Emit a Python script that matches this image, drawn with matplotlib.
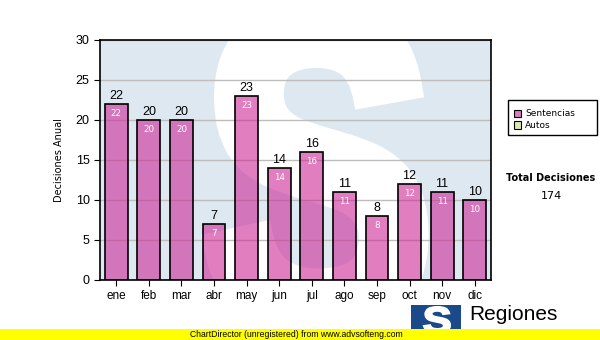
import matplotlib.pyplot as plt
import matplotlib.patches as mpatches
from matplotlib.textpath import TextPath
from matplotlib.font_manager import FontProperties
from matplotlib.transforms import Affine2D

meses = ["ene", "feb", "mar", "abr", "may", "jun", "jul", "ago", "sep", "oct", "nov", "dic"]
sentencias = [22, 20, 20, 7, 23, 14, 16, 11, 8, 12, 11, 10]
total = 174

W, H = 600, 340
fig = plt.figure(figsize=(6, 3.4), dpi=100)
fig.patch.set_facecolor("white")
plt.rcParams["font.family"] = ["Liberation Sans", "DejaVu Sans"]


def s_path(x0, y0, w, h):
    # big bold "S" outline fitted into the box (x0, y0, w, h)
    tp = TextPath((0, 0), "S", size=1, prop=FontProperties(family="Liberation Sans", weight="bold"))
    e = tp.get_extents()
    tr = Affine2D().translate(-e.x0, -e.y0).scale(w / e.width, h / e.height).translate(x0, y0)
    return tr.transform_path(tp)


# plot area in pixels: x 100..491, y 40..280
ax = fig.add_axes([100 / W, 1 - 280 / H, 391 / W, 240 / H])
ax.set_facecolor("#DEE8F1")
ax.set_xlim(-0.5, 11.5)
ax.set_ylim(0, 30)

# watermark, stroked to make it heavier
ax.add_patch(mpatches.PathPatch(s_path(0.292, -0.2, 0.52, 1.32), facecolor="white",
                                edgecolor="white", lw=16, transform=ax.transAxes, zorder=0.5))

ax.set_yticks(range(0, 31, 5))
ax.yaxis.grid(True, color="#BDBDBD", lw=1, zorder=0.8)
x = range(len(meses))
ax.bar(x, sentencias, width=0.7, color=(0.80, 0.16, 0.59, 0.6), edgecolor="black", lw=1.2, zorder=2)
for i, v in enumerate(sentencias):
    ax.text(i, v + 0.2, str(v), ha="center", va="bottom", fontsize=9, color="black", zorder=3)
    ax.text(i, v - 0.6, str(v), ha="center", va="top", fontsize=6.3, color="white",
            family="DejaVu Sans", zorder=3)

ax.set_xticks(list(x))
ax.set_xticklabels(meses, fontsize=8.5)
ax.tick_params(axis="y", labelsize=9, length=4)
ax.tick_params(axis="x", length=4)
for s in ax.spines.values():
    s.set_color("black")
    s.set_linewidth(1.2)
ax.set_ylabel("Decisiones Anual", fontsize=7, labelpad=8, family="DejaVu Sans")

# legend
fig.patches.append(mpatches.Rectangle((508 / W, 1 - 135 / H), 89 / W, 35 / H, transform=fig.transFigure,
                                      facecolor="white", edgecolor="black", lw=1))
for j, (lab, col) in enumerate([("Sentencias", "#DC7CC0"), ("Autos", "#D9EBA8")]):
    yy = 1 - (114 + j * 11) / H
    fig.patches.append(mpatches.Rectangle((514 / W, yy - 3.5 / H), 7 / W, 7 / H,
                                          transform=fig.transFigure, facecolor=col,
                                          edgecolor="black", lw=0.8))
    fig.text(525 / W, yy, lab, fontsize=6.5, va="center", family="DejaVu Sans")

fig.text(551 / W, 1 - 178 / H, "Total Decisiones", fontsize=7, fontweight="bold",
         ha="center", va="center", family="DejaVu Sans")
fig.text(551 / W, 1 - 196 / H, str(total), fontsize=8, ha="center", va="center", family="DejaVu Sans")

# logo
fig.patches.append(mpatches.Rectangle((411 / W, 1 - 335 / H), 50 / W, 30 / H,
                                      transform=fig.transFigure, facecolor="#1A4A8A", edgecolor="none"))
fig.patches.append(mpatches.PathPatch(s_path(424 / W, 1 - 333 / H, 26 / W, 26 / H),
                                      facecolor="white", edgecolor="white", lw=1.5,
                                      transform=fig.transFigure))
fig.text(469 / W, 1 - 315 / H, "Regiones", fontsize=15, ha="left", va="center")
fig.text(470 / W, 1 - 333 / H, "Tribunal Supremo de Justicia", fontsize=6, ha="left", va="center")

# footer
fig.patches.append(mpatches.Rectangle((0, 0), 1, 11 / H, transform=fig.transFigure,
                                      facecolor="#FFFF00", edgecolor="none", zorder=5))
fig.text(190 / W, 5.5 / H, "ChartDirector (unregistered) from www.advsofteng.com", fontsize=6.2,
         va="center", ha="left", zorder=6)

fig.savefig("out.png", dpi=100)
